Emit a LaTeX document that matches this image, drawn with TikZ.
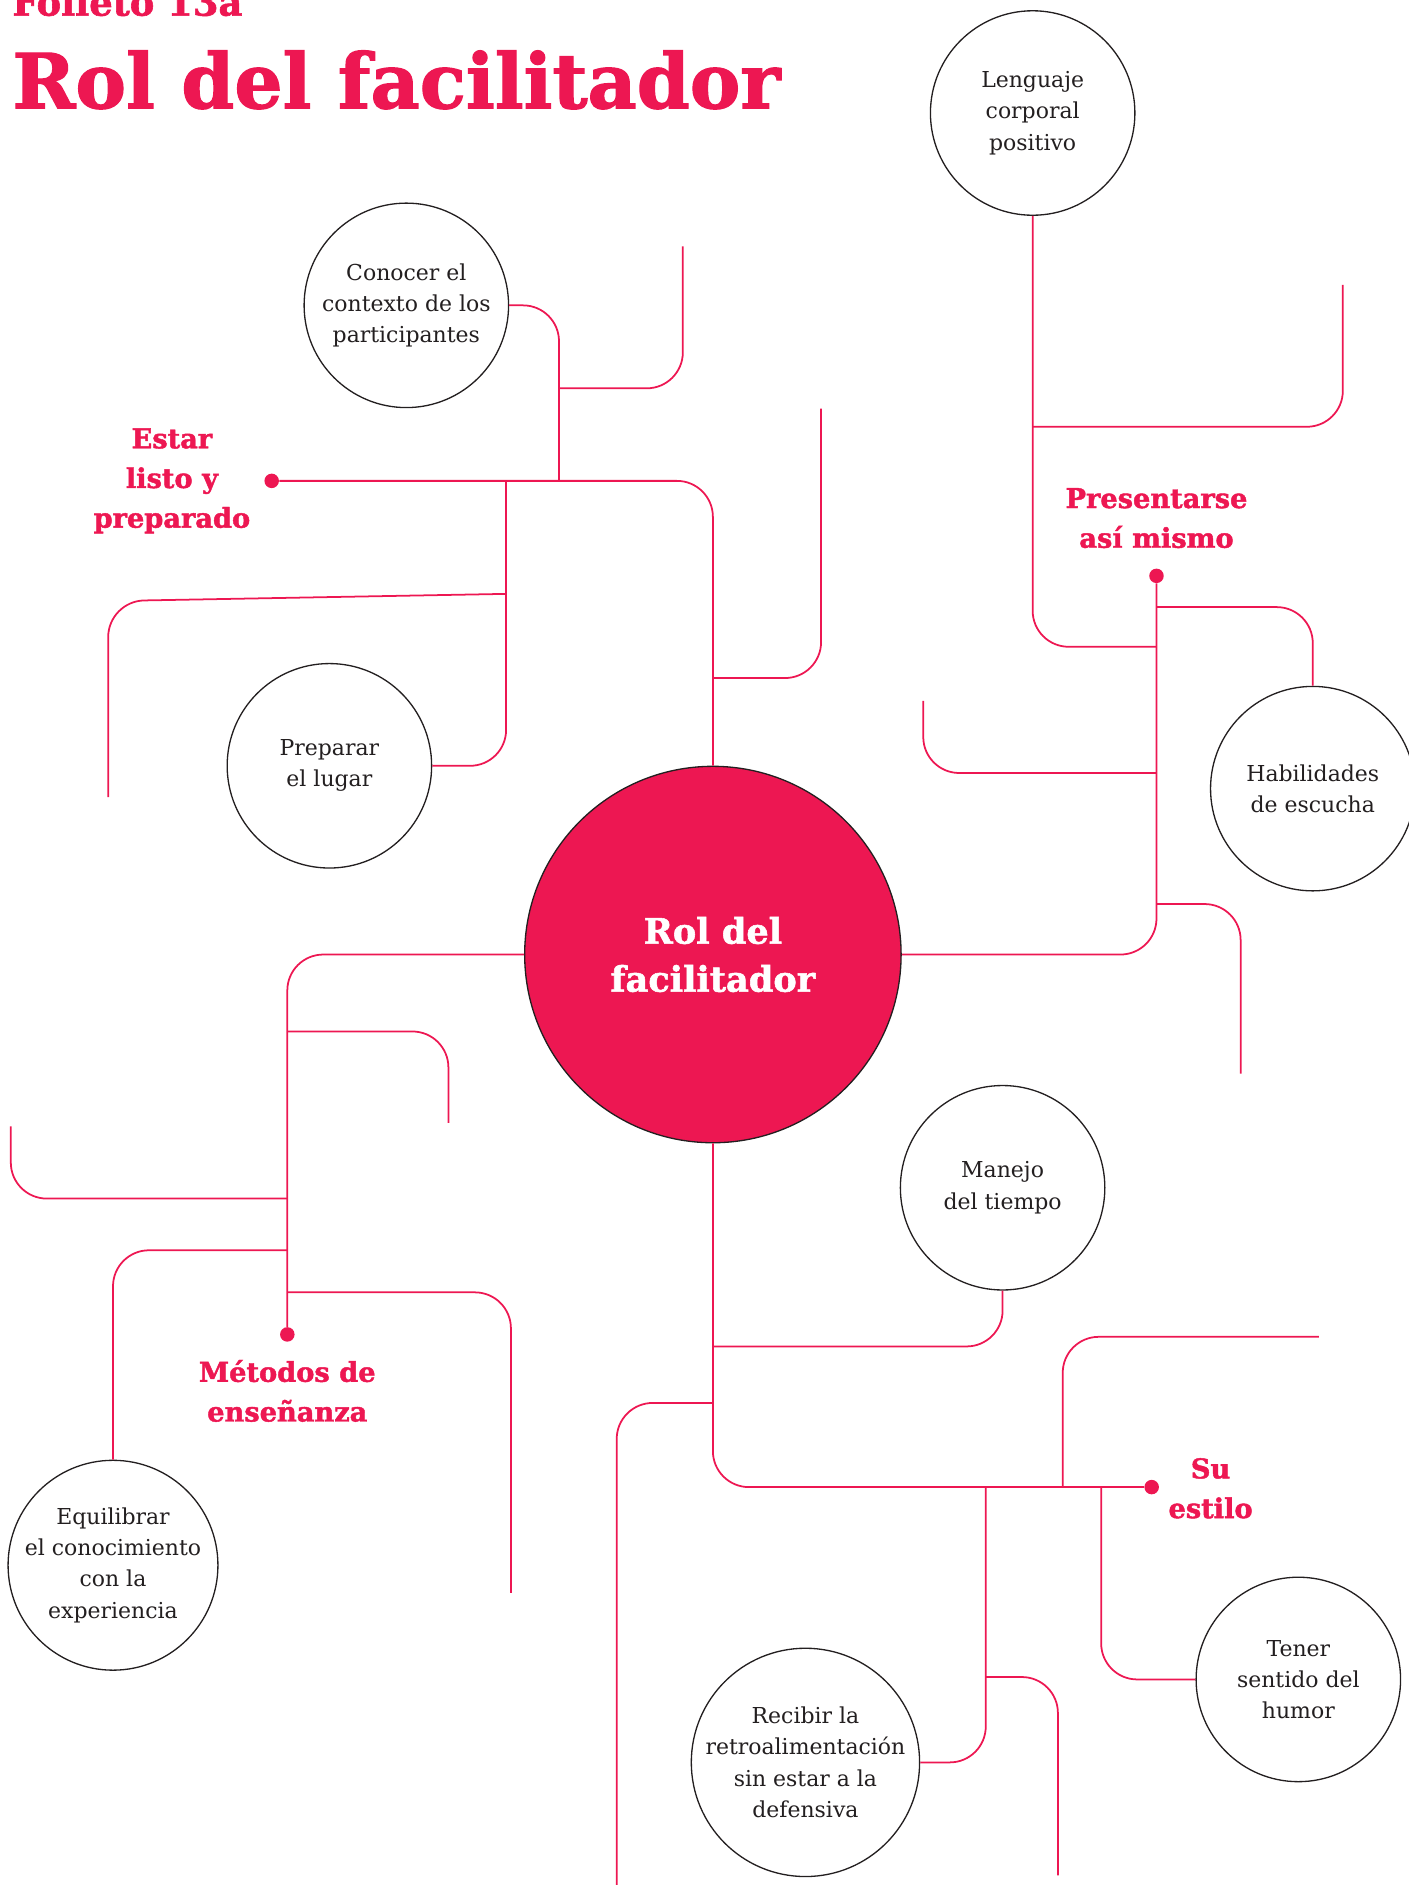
\documentclass[tikz,border=0pt]{standalone}
\usepackage{fontspec}
\setmainfont{DejaVu Serif}
% heavier slab-like face for headings
\newfontfamily\heavyfont[FakeBold=1.6]{DejaVu Serif Bold}
\definecolor{rojo}{RGB}{237,23,82}
\definecolor{tinta}{RGB}{35,31,32}
\begin{document}
\begin{tikzpicture}[x=0.024044cm,y=-0.024044cm,
  link/.style={draw=rojo,line width=1pt,rounded corners=0.72cm},
  idea/.style={circle,draw=tinta,line width=0.75pt,fill=white,inner sep=0pt,
    minimum size=4.09cm,align=center,text=tinta,
    font=\fontsize{12.5}{17.8}\selectfont},
  hub/.style={circle,draw=tinta,line width=0.75pt,fill=rojo,inner sep=0pt,
    minimum size=7.53cm,align=center,text=white,
    font=\heavyfont\fontsize{20}{27.3}\selectfont},
  branchlabel/.style={align=center,text=rojo,font=\heavyfont\fontsize{15.5}{22.6}\selectfont},
  dot/.style={circle,fill=rojo,inner sep=0pt,minimum size=0.29cm}]
\useasboundingbox (0,0) rectangle (1172,1568);

% title
\node[anchor=base west,inner sep=0pt,text=rojo,font=\heavyfont\fontsize{21}{24}\selectfont] (folleto) at (10,13) {Folleto 13a};
\node[anchor=base west,inner sep=0pt,text=rojo,font=\heavyfont\fontsize{43.2}{48}\selectfont] (titulo) at (10,90) {Rol del facilitador};

% central hub
\node[hub] (rol) at (593,794) {Rol del\\facilitador};

% idea circles
\node[idea] (lenguaje) at (859,94) {Lenguaje\\corporal\\positivo};
\node[idea] (conocer) at (338,254) {Conocer el\\contexto de los\\participantes};
\node[idea] (preparar) at (274,637) {Preparar\\el lugar};
\node[idea] (habil) at (1092,656) {Habilidades\\de escucha};
\node[idea] (manejo) at (834,988) {Manejo\\del tiempo};
\node[idea] (equil) at (94,1302) {Equilibrar\\el conocimiento\\con la\\experiencia};
\node[idea] (tener) at (1080,1397) {Tener\\sentido del\\humor};
\node[idea,minimum size=4.47cm] (recibir) at (670,1466) {Recibir la\\retroalimentación\\sin estar a la\\defensiva};

% branch labels and their dots
\node[branchlabel] (lblE) at (143,400) {Estar\\listo y\\preparado};
\node[branchlabel] (lblP) at (962,431) {Presentarse\\así mismo};
\node[branchlabel] (lblM) at (239,1157) {Métodos de\\enseñanza};
\node[branchlabel] (lblS) at (1007,1238) {Su\\estilo};
\node[dot] (dotE) at (226,400) {};
\node[dot] (dotP) at (962,479) {};
\node[dot] (dotM) at (239,1110) {};
\node[dot] (dotS) at (958,1237) {};

% junctions and loose ends
\coordinate (jA) at (465,400);
\coordinate (jB) at (421,400);
\coordinate (jC) at (421,494);
\coordinate (bendC) at (90,500);
\coordinate (endC) at (90,663);
\coordinate (jD) at (465,323);
\coordinate (endD) at (568,205);
\coordinate (jE) at (593,564);
\coordinate (endE) at (683,340);
\coordinate (jF) at (962,538);
\coordinate (jG) at (859,355);
\coordinate (endG) at (1117,237);
\coordinate (jH) at (962,505);
\coordinate (jI) at (962,643);
\coordinate (endI) at (768,583);
\coordinate (jJ) at (962,752);
\coordinate (endJ) at (1032,893);
\coordinate (jK) at (239,858);
\coordinate (endK) at (373,934);
\coordinate (jL) at (239,997);
\coordinate (endL) at (9,937);
\coordinate (jM) at (239,1040);
\coordinate (jN) at (239,1075);
\coordinate (endN) at (425,1325);
\coordinate (jO) at (593,1120);
\coordinate (jP) at (593,1167);
\coordinate (endP) at (513,1570);
\coordinate (jQ) at (884,1237);
\coordinate (endQ) at (1097,1112);
\coordinate (jR) at (916,1237);
\coordinate (jS) at (820,1237);
\coordinate (jT) at (820,1395);
\coordinate (endT) at (880,1560);

% Estar listo y preparado
\draw[link] (dotE) -| (rol.north);
\draw[link] (conocer.east) -| (jA);
\draw[link] (jD) -| (endD);
\draw[link] (jB) |- (preparar.east);
\draw[link] (jC) -- (bendC) -- (endC);
\draw[link] (jE) -| (endE);

% Presentarse así mismo
\draw[link] (rol.east) -| (dotP);
\draw[link] (lenguaje.south) |- (jF);
\draw[link] (jG) -| (endG);
\draw[link] (jH) -| (habil.north);
\draw[link] (jI) -| (endI);
\draw[link] (jJ) -| (endJ);

% Métodos de enseñanza
\draw[link] (rol.west) -| (dotM);
\draw[link] (jK) -| (endK);
\draw[link] (jL) -| (endL);
\draw[link] (jM) -| (equil.north);
\draw[link] (jN) -| (endN);

% Su estilo
\draw[link] (rol.south) |- (dotS);
\draw[link] (manejo.south) |- (jO);
\draw[link] (jP) -| (endP);
\draw[link] (jQ) |- (endQ);
\draw[link] (jR) |- (tener.west);
\draw[link] (jS) |- (recibir.east);
\draw[link] (jT) -| (endT);
\end{tikzpicture}
\end{document}
